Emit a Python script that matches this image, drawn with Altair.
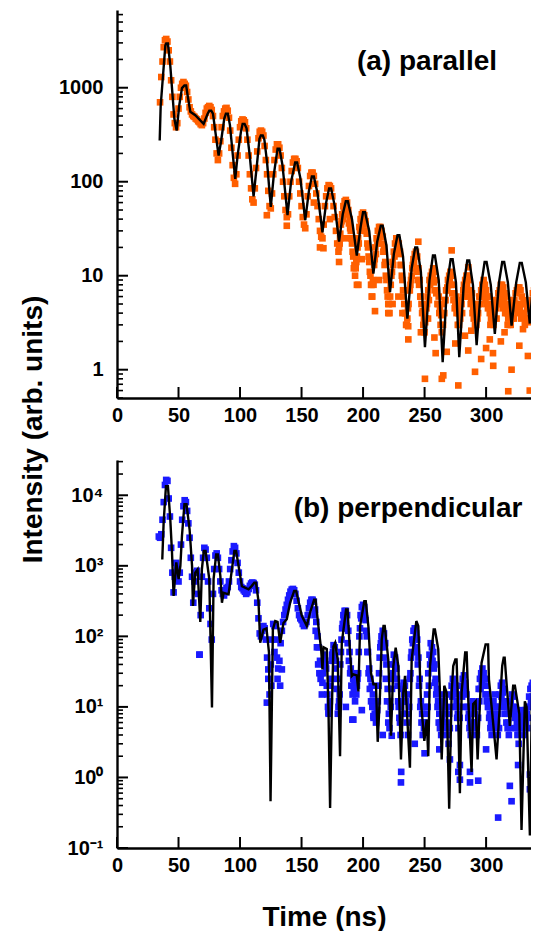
import altair as alt
import pandas as pd

# ---------------- data: panel (a) parallel ----------------
fit_a_t = [34.7, 35.5, 37.4, 39.3, 40.0, 41.4, 43.3, 44.7, 46.6, 48.5, 50.6, 52.8, 54.8, 56.2, 57.4, 59.6,
           63.6, 70.4, 73.6, 75.0, 76.6, 78.0, 80.7, 82.6, 84.5, 87.2, 88.5, 90.1, 91.8, 94.2, 96.1, 98.0,
           100.7, 102.1, 103.7, 105.3, 107.9, 111.0, 113.7, 115.8, 116.9, 118.5, 119.8, 122.0, 125.0, 127.5,
           130.5, 132.1, 134.5, 138.6, 141.5, 144.8, 146.4, 149.0, 153.0, 156.0, 158.4, 160.0, 163.0, 167.0,
           170.0, 172.4, 174.0, 177.0, 180.5, 183.5, 186.0, 187.6, 191.0, 194.9, 198.0, 200.0, 201.6, 205.0,
           208.4, 211.5, 214.4, 216.0, 219.0, 221.9, 225.0, 228.0, 229.5, 232.5, 236.0, 239.5, 242.4, 244.0,
           247.0, 250.3, 254.0, 256.8, 258.4, 261.5, 264.7, 268.3, 271.2, 272.8, 275.5, 278.2, 281.8, 284.7,
           286.3, 289.3, 292.3, 296.0, 298.8, 300.4, 303.8, 307.1, 310.5, 313.1, 314.7, 317.7, 320.7, 324.5,
           327.4, 329.0, 332.3, 335.5, 338.3, 340.2, 341.8, 343.0]
fit_a_y = [275, 640, 1350, 2820, 2950, 2950, 1730, 990, 470, 350, 650, 990, 1060, 1060, 830, 555,
           510, 413, 525, 570, 570, 530, 287, 190, 265, 470, 530, 530, 400, 190, 107, 190,
           337, 413, 413, 370, 190, 70, 150, 287, 310, 310, 280, 160, 54, 120,
           225, 225, 150, 44, 100, 160, 160, 110, 39, 80, 114, 114, 75, 29,
           60, 85, 85, 55, 23, 45, 62, 62, 40, 16.4, 33, 47.5, 47.5, 30,
           10.5, 23, 34, 34, 21, 6.7, 17, 27, 27, 16, 3.5, 12, 20, 20,
           11, 1.74, 9, 16.4, 16.4, 9, 1.2, 8, 15, 15, 8.5, 1.36, 8, 14.5,
           14.5, 8, 1.82, 8, 14, 14, 8, 2.4, 8.5, 14, 14, 8.5, 2.95, 8.5,
           13.7, 13.7, 8.5, 3.1, 8.5, 13.5, 13.5, 12]

dots_a_t = list(range(35, 344))
dots_a_y = [700, 1300, 1900, 2700, 3200, 3300, 3100, 2500, 1900, 1200,
            800, 520, 420, 380, 420, 600, 800, 1000, 1100, 1150,
            1100, 1050, 900, 750, 620, 560, 520, 500, 490, 470,
            460, 440, 430, 410, 400, 420, 470, 540, 600, 620,
            640, 620, 580, 500, 380, 280, 200, 170, 200, 270,
            380, 500, 560, 600, 610, 570, 480, 350, 230, 150,
            110, 95, 120, 190, 280, 380, 440, 460, 450, 430,
            370, 280, 190, 120, 85, 65, 60, 85, 140, 210,
            290, 340, 350, 340, 310, 240, 170, 120, 80, 55,
            52, 75, 120, 170, 220, 250, 250, 230, 190, 140,
            100, 70, 50, 42, 45, 70, 100, 130, 160, 175,
            175, 165, 140, 100, 75, 55, 42, 35, 32, 45,
            70, 90, 115, 125, 125, 115, 95, 75, 55, 40,
            30, 26, 25, 35, 55, 70, 85, 92, 90, 85,
            70, 55, 42, 30, 22, 18, 22, 35, 45, 55,
            62, 64, 60, 50, 40, 30, 22, 16, 13, 12,
            16, 25, 33, 40, 45, 47, 44, 38, 28, 20,
            14, 10, 8, 9, 13, 20, 25, 30, 33, 33,
            30, 26, 20, 14, 9, 6, 5, 6, 10, 14,
            18, 22, 25, 24, 22, 18, 13, 9, 6, 4,
            3, 3.5, 5, 7, 9, 12, 15, 17, 18, 16,
            12, 9, 6, 4, 3, 2.5, 3.5, 5, 7, 9,
            10, 11, 12, 11, 9, 7, 5, 4, 3, 2.5,
            3, 4, 5.5, 7, 9, 10, 11, 10, 8, 6.5,
            5, 4, 3, 3, 3.5, 5, 6, 8, 9, 10,
            10, 9, 7, 5.5, 4, 3.5, 3, 3, 3.5, 5,
            6, 7, 8, 9, 8, 7, 6, 5, 4, 3.5,
            3.5, 3, 3.5, 4.5, 5.5, 6.5, 7, 8, 8, 7.5,
            6.5, 5, 4, 3.5, 3, 3, 3.5, 4.5, 5.5, 6.5,
            7, 7.5, 7.5, 7, 6, 5, 4, 3.5, 3.5, 3.2,
            3.5, 4.5, 5.5, 6.5, 7, 7.5, 7.5, 7, 6]

extra_a_t = [t + 0.5 for t in range(180, 343)]
extra_a_y = [20, 28, 38, 40, 48, 50, 55, 45, 36, 32,
             25, 18, 12, 10, 14, 20, 22, 30, 35, 38,
             40, 35, 30, 22, 16, 11, 8, 6, 8, 15,
             17, 22, 25, 28, 26, 22, 18, 13, 10, 7,
             5, 4, 8, 11, 13, 16, 18, 20, 19, 17,
             13, 10, 7, 5, 4, 3, 4.5, 7, 8, 10,
             13, 14, 12, 11, 9, 8, 6, 5, 4.2, 3.5,
             3.2, 4.5, 6, 5.5, 8, 9, 10, 8.5, 7, 6.5,
             5, 6, 4.5, 3.8, 4, 5, 5.5, 7, 7.5, 8,
             9, 8, 6.5, 5.5, 4.5, 6, 5, 4, 4.5, 5.5,
             4, 7, 6, 7.5, 8, 7, 6, 5, 6.5, 4.5,
             5, 4, 4.5, 4, 6, 5, 6, 7, 6, 5.5,
             5, 4.5, 6, 3, 4.5, 5, 4, 5.5, 3.5, 5,
             5.5, 6, 5, 4.5, 5.5, 4, 6, 3, 4.5, 5,
             4, 5.5, 3.5, 4.5, 5, 4, 5, 4.5, 3.5, 4,
             5.5, 3, 5, 4.5, 3.5, 5, 4, 4.5, 3.5, 5,
             4, 3.5, 4.5]

out_a_t = [121.8, 138, 165, 167.8, 180.5, 181.3, 195, 196.2, 207, 209.7, 220.5, 228.7, 236.8, 236.7,
           244.9, 249.8, 250.3, 252.8, 259, 264, 265.2, 268, 272, 277.4, 282.8, 285.5, 285.5, 291,
           296, 303, 305.6, 305.8, 312, 318, 320.7, 327, 334, 335.5, 340, 342, 258, 275, 288, 300,
           315, 330, 247, 232, 224, 213, 199, 186, 173, 160]
out_a_y = [44, 34, 20, 19.6, 14, 25, 8, 8, 6, 4.2, 4, 6, 2.1, 2.9,
           23, 4.1, 0.8, 3.5, 1.5, 0.8, 0.87, 1.55, 18.6, 0.68, 2.3, 1.6, 12.3, 0.95,
           1.3, 2.1, 1.5, 1.1, 2, 0.59, 1.0, 1.8, 1.4, 0.6, 2.2, 1.3, 2.2, 1.9, 2.6, 1.7,
           2.5, 2.7, 2.5, 4, 5, 9, 15, 25, 40, 60]

# ---------------- data: panel (b) perpendicular ----------------
fit_b_t = [36.8, 37.9, 39.8, 41.4, 43.3, 44.7, 46.0, 48.2, 50.1, 51.5, 52.8, 54.8, 56.5, 59.0, 61.0, 61.7,
           63.6, 65.5, 67.7, 69.0, 70.5, 72.0, 75.0, 77.2, 78.5, 80.6, 82.0, 84.0, 85.3, 86.6, 90.7, 93.4,
           95.4, 96.8, 98.8, 101.5, 106.9, 109.6, 111.6, 113.0, 115.0, 116.4, 119.0, 121.5, 123.5, 124.8,
           126.7, 128.6, 130.5, 132.6, 135.3, 138.0, 140.7, 144.0, 145.6, 150.2, 154.3, 157.0, 160.2, 161.4,
           163.7, 165.9, 167.0, 167.8, 170.5, 171.9, 173.2, 174.6, 175.9, 177.3, 179.4, 181.3, 182.7, 186.2,
           187.4, 189.4, 190.8, 192.1, 194.9, 196.2, 197.6, 201.0, 202.2, 204.3, 206.5, 208.4, 210.5, 211.9,
           213.8, 215.2, 216.6, 217.6, 220.5, 222.7, 224.6, 226.5, 228.7, 230.8, 232.7, 234.1, 238.1, 239.5,
           243.3, 244.9, 247.1, 249.8, 251.7, 253.0, 254.4, 257.4, 258.4, 261.1, 262.5, 263.9, 266.0, 267.9,
           270.0, 272.0, 273.3, 275.0, 276.0, 276.9, 278.7, 280.1, 283.0, 284.2, 285.5, 288.2, 289.5, 291.5,
           293.1, 296.3, 299.6, 301.6, 302.3, 304.5, 308.5, 313.1, 314.3, 315.1, 316.6, 319.3, 322.0, 323.4,
           327.0, 328.8, 331.5, 332.9, 335.6, 337.4, 339.8, 340.6, 342.3]
fit_b_y = [1230, 4100, 13500, 13500, 4600, 1550, 375, 1120, 650, 1000, 2650, 7450, 7450, 3300, 1000, 270,
           800, 890, 160, 890, 1620, 1620, 650, 9.8, 650, 1450, 1450, 720, 300, 415, 395, 890,
           1620, 1620, 1000, 515, 465, 520, 575, 575, 315, 81, 125, 130, 60, 0.46,
           125, 165, 160, 81, 155, 175, 300, 440, 440, 196, 140, 220, 330, 330,
           140, 66, 34, 70, 66, 9, 0.37, 9, 72, 81, 47, 2.0, 81, 240,
           240, 59, 27.5, 29, 28, 16.6, 140, 315, 315, 140, 30, 21, 21, 3.2,
           15.8, 91, 140, 140, 47, 3.9, 38, 69, 38, 1.8, 15.8, 27.5, 1.37, 47,
           165, 140, 11.5, 3.3, 6.6, 2.0, 38, 125, 125, 66, 16, 1.8, 20, 16,
           0.36, 16, 38, 47, 47, 16, 0.6, 16, 59, 59, 12.6, 1.2, 11, 12,
           1.8, 42, 77, 77, 24.6, 10, 1.8, 38, 50, 50, 22, 5.4, 20, 20,
           8, 0.18, 12, 10, 0.15, 20, 34, 34, 24]

dots_b_t = list(range(34, 344))
dots_b_y = [2600, 2500, 2800, 4500, 8000, 14000, 16500, 16000, 9000, 5000,
            1800, 800, 420, 700, 1100, 900, 600, 800, 2000, 4500,
            7000, 8500, 8000, 6000, 4000, 2500, 1300, 700, 300, 600,
            800, 850, 400, 55, 200, 700, 1300, 1800, 1700, 1300,
            600, 250, 150, 90, 400, 900, 1400, 1500, 1300, 900,
            600, 450, 400, 380, 420, 480, 500, 600, 900, 1200,
            1600, 1900, 1800, 1500, 1100, 800, 600, 500, 480, 450,
            430, 400, 420, 470, 520, 560, 580, 570, 540, 450,
            300, 180, 110, 100, 120, 140, 130, 90, 50, 25,
            15, 40, 90, 150, 140, 90, 50, 35, 45, 80,
            120, 160, 200, 240, 280, 330, 380, 430, 460, 470,
            450, 400, 320, 250, 200, 180, 170, 150, 140, 150,
            160, 200, 250, 300, 330, 330, 310, 240, 160, 100,
            70, 45, 30, 22, 40, 55, 35, 15, 8, 12,
            25, 55, 75, 70, 45, 25, 10, 15, 60, 130,
            200, 230, 230, 200, 120, 60, 35, 30, 25, 22,
            25, 20, 30, 100, 200, 260, 280, 260, 170, 100,
            60, 35, 25, 20, 15, 12, 10, 8, 12, 30,
            70, 100, 120, 110, 80, 40, 18, 8, 12, 25,
            40, 55, 50, 35, 20, 10, 6, 10, 18, 22,
            20, 12, 8, 15, 25, 50, 90, 120, 130, 110,
            90, 50, 25, 12, 8, 6, 10, 8, 15, 30,
            55, 80, 70, 60, 40, 25, 18, 12, 8, 6,
            10, 15, 12, 8, 6, 5, 8, 15, 20, 25,
            22, 18, 12, 8, 10, 15, 20, 25, 28, 22,
            15, 10, 8, 6, 8, 12, 10, 8, 6, 10,
            18, 25, 30, 35, 30, 25, 20, 15, 10, 8,
            6, 8, 12, 15, 10, 6, 8, 15, 20, 22,
            18, 12, 10, 8, 6, 8, 12, 15, 14, 10,
            8, 6, 5, 7, 9, 8, 6, 7, 9, 8,
            10, 14, 18, 20, 22, 18, 14, 12, 15, 18]

extra_b_t = [t + 0.5 for t in range(160, 343)]
extra_b_y = [200, 120, 70, 40, 30, 25, 15, 30, 45, 40,
             20, 10, 9, 20, 45, 60, 50, 35, 18, 8,
             12, 40, 90, 150, 180, 160, 130, 80, 45, 30,
             20, 15, 18, 12, 15, 25, 60, 130, 180, 200,
             220, 180, 120, 60, 30, 18, 12, 10, 7, 8,
             6, 9, 20, 50, 80, 90, 70, 50, 25, 12,
             6, 5, 10, 18, 30, 40, 35, 25, 12, 7,
             4, 8, 12, 15, 12, 6, 4, 10, 30, 60,
             80, 90, 70, 60, 40, 20, 10, 6, 4, 5,
             6, 5, 10, 20, 40, 50, 45, 35, 22, 15,
             10, 6, 5, 4, 7, 10, 8, 5, 4, 3,
             5, 10, 14, 18, 15, 10, 7, 5, 7, 10,
             14, 18, 20, 16, 10, 7, 5, 4, 5, 8,
             6, 5, 4, 7, 12, 18, 22, 25, 20, 15,
             12, 10, 7, 5, 4, 5, 8, 10, 7, 4,
             5, 10, 14, 16, 12, 8, 6, 5, 4, 5,
             8, 10, 9, 7, 5, 4, 3, 5, 6, 5,
             4, 5, 6, 5, 7, 10, 12, 14, 12, 10,
             8, 10, 12]

out_b_t = [67.1, 121.8, 123, 132.6, 134, 128, 125.5, 130.5, 171.9, 192.1, 191.3, 208.4, 223.3, 230.8,
           231, 270.6, 277.4, 278.7, 286.9, 293.6, 286.9, 309.8, 319.3, 320.7, 335.6, 335.6, 278.7,
           300, 326, 340, 262, 250, 242, 216, 186, 199]
out_b_y = [55, 11.5, 34, 20, 34, 60, 20, 25, 8.3, 6.6, 6.6, 7.4, 3.9, 0.85,
           1.2, 1.8, 1.2, 0.93, 0.85, 0.9, 1.2, 0.27, 0.76, 0.46, 0.68, 1.1, 1.5,
           2.5, 1.5, 2.0, 2.5, 2.2, 3, 4, 10, 9]

# ---------------- axes ticks ----------------
x_ticks = [0, 50, 100, 150, 200, 250, 300]
a_major = [1, 10, 100, 1000]
b_major = [0.1, 1, 10, 100, 1000, 10000]

# ---------------- styling ----------------
W, H = 414, 388
X_MAX = 336.5
LABEL_FONT = "Liberation Sans Narrow, Liberation Sans, Arial"
TITLE_FONT = "Liberation Sans, Arial"


def minor_ticks(lo, hi):
    out = []
    for d in [0.01, 0.1, 1, 10, 100, 1000, 10000]:
        for m in range(2, 10):
            v = m * d
            if lo <= v <= hi:
                out.append(v)
    return out


def panel(fit_t, fit_v, dot_t, dot_v, color, ydom, ymajor, label, lab_x, lab_y,
          ylabel_expr, ytitle, xtitle):
    xs = alt.Scale(domain=[0, X_MAX], nice=False, zero=False)
    ys = alt.Scale(type="log", domain=ydom, nice=False)

    xaxis_kw = dict(values=x_ticks, ticks=False, tickSize=0, grid=False,
                    domainColor="black", domainWidth=2.4,
                    labelFont=LABEL_FONT, labelFontSize=20, labelFontWeight="bold",
                    labelColor="black", labelPadding=7, labelFlush=False)
    if xtitle:
        xaxis_kw.update(title=xtitle, titleFont=TITLE_FONT, titleFontSize=28,
                        titleFontWeight="bold", titleColor="black", titleY=69,
                        titleBaseline="middle")
    xaxis = alt.Axis(**xaxis_kw)

    yaxis_kw = dict(values=ymajor, ticks=False, tickSize=0, grid=False,
                    domainColor="black", domainWidth=2.4,
                    labelFont=LABEL_FONT, labelFontSize=20, labelFontWeight="bold",
                    labelColor="black", labelPadding=14, labelExpr=ylabel_expr)
    if ytitle:
        yaxis_kw.update(title=ytitle, titleFont=TITLE_FONT, titleFontSize=28,
                        titleFontWeight="bold", titleColor="black", titleX=-84,
                        titleY=419, titleAngle=270, titleBaseline="middle",
                        titleAlign="center")
    yaxis = alt.Axis(**yaxis_kw)

    xt = xtitle if xtitle else None
    yt = ytitle if ytitle else None
    X = alt.X("t:Q", scale=xs, axis=xaxis, title=xt)
    Y = alt.Y("v:Q", scale=ys, axis=yaxis, title=yt)

    dots = alt.Chart(pd.DataFrame({"t": dot_t, "v": dot_v})).mark_square(
        size=44, color=color, opacity=1, clip=True).encode(x=X, y=Y)
    fit = alt.Chart(pd.DataFrame({"t": fit_t, "v": fit_v})).mark_line(
        color="black", strokeWidth=2.4, clip=True, strokeJoin="miter").encode(x=X, y=Y)

    ymin = minor_ticks(ydom[0], ydom[1])
    ymaj_rule = alt.Chart(pd.DataFrame({"v": ymajor})).mark_rule(
        color="black", strokeWidth=2).encode(y=Y, x=alt.value(0), x2=alt.value(11))
    ymin_rule = alt.Chart(pd.DataFrame({"v": ymin})).mark_rule(
        color="black", strokeWidth=1.6).encode(y=Y, x=alt.value(0), x2=alt.value(6))
    xmaj_rule = alt.Chart(pd.DataFrame({"t": x_ticks})).mark_rule(
        color="black", strokeWidth=2).encode(x=X, y=alt.value(H), y2=alt.value(H - 11))

    txt = alt.Chart(pd.DataFrame({"label": [label]})).mark_text(
        font=TITLE_FONT, fontSize=28, fontWeight="bold", color="black",
        align="center", baseline="middle").encode(
        x=alt.value(lab_x), y=alt.value(lab_y), text="label:N")

    return alt.layer(dots, fit, ymin_rule, ymaj_rule, xmaj_rule, txt).properties(
        width=W, height=H)


top = panel(fit_a_t, fit_a_y,
            dots_a_t + extra_a_t + out_a_t, dots_a_y + extra_a_y + out_a_y,
            "#ff5f00", [0.5, 6714], a_major, "(a) parallel", 310, 52,
            "format(datum.value, 'd')", "Intensity (arb. units)", "")

bottom = panel(fit_b_t, fit_b_y,
               dots_b_t + extra_b_t + out_b_t, dots_b_y + extra_b_y + out_b_y,
               "#1a1aff", [0.1, 31623], b_major, "(b) perpendicular", 291, 49,
               "datum.value > 5000 ? '10\u2074' : datum.value > 500 ? '10\u00b3' : "
               "datum.value > 50 ? '10\u00b2' : datum.value > 5 ? '10\u00b9' : "
               "datum.value > 0.5 ? '10\u2070' : '10\u207b\u00b9'",
               "", "Time (ns)")

chart = alt.vconcat(top, bottom, spacing=62, bounds="flush").properties(
    padding={"left": 11, "top": 2, "right": 0, "bottom": 0},
    background="white",
).configure_view(strokeOpacity=0)

chart.save("out.html", embed_options={"renderer": "svg", "actions": False})
